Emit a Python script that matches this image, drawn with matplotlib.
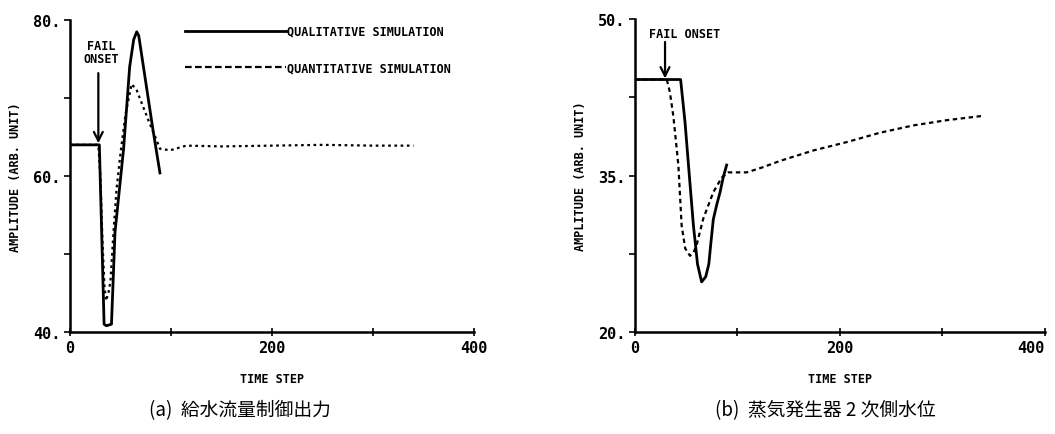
import matplotlib
matplotlib.use("Agg")
import matplotlib.pyplot as plt

# (a) feedwater flow control output
a_qual_x = [0, 29, 33.7, 36, 41, 44.5, 53, 59, 63, 66, 68, 75, 82, 89]
a_qual_y = [64, 64, 41, 40.8, 41, 52.8, 63.5, 74, 77.5, 78.5, 78, 72, 66, 60.4]
a_quan_x = [0, 28, 30, 32, 34, 35.6, 38, 40, 43, 46, 50, 55, 61, 66, 72, 78,
            82.5, 89, 99, 115, 150, 200, 250, 300, 340]
a_quan_y = [64, 64, 60, 52, 46, 44, 45, 46.5, 52.8, 58.3, 63, 68, 71.8, 71,
            69, 67, 65.6, 63.5, 63.3, 63.9, 63.8, 63.9, 64, 63.9, 63.9]

# (b) steam generator secondary water level
b_qual_x = [0, 44.5, 48.8, 53, 57, 61, 65, 69, 72, 74, 76.4, 80, 83, 86, 89.4]
b_qual_y = [44.2, 44.2, 40.1, 35, 30.2, 26.5, 24.8, 25.3, 26.5, 28.5, 30.8,
            32.3, 33.4, 34.8, 36.0]
b_quan_x = [0, 31, 34, 37.4, 42.3, 45.5, 49, 53.7, 57, 60, 66.7, 76.4, 84.6,
            91, 109, 125, 141.5, 174, 206.5, 239, 271.5, 304, 338]
b_quan_y = [44.2, 44.2, 43, 40.7, 36, 30.2, 28, 27.3, 27.6, 28.3, 30.9, 33.4,
            34.8, 35.3, 35.3, 35.8, 36.4, 37.4, 38.2, 39.1, 39.8, 40.3, 40.7]

x_ticks = [0, 100, 200, 300, 400]
x_labels = ["0", "", "200", "", "400"]
a_yticks = [40, 50, 60, 70, 80]
a_ylabels = ["40.", "", "60.", "", "80."]
b_yticks = [20, 27.5, 35, 42.5, 50]
b_ylabels = ["20.", "", "35.", "", "50."]

mono = "DejaVu Sans Mono"
cjk = ["Noto Sans CJK JP", "DejaVu Sans"]

fig = plt.figure(figsize=(10.55, 4.35), dpi=100)
ax1 = fig.add_axes([0.0664, 0.2345, 0.383, 0.717])
ax2 = fig.add_axes([0.6019, 0.2345, 0.3886, 0.7195])


def style_axis(ax, yticks, ylabels, ylim):
    ax.set_xlim(0, 400)
    ax.set_ylim(*ylim)
    for s in ["top", "right"]:
        ax.spines[s].set_visible(False)
    for s in ["left", "bottom"]:
        ax.spines[s].set_linewidth(1.8)
    ax.set_xticks(x_ticks)
    ax.set_xticklabels(x_labels, fontfamily=mono, fontweight="bold", fontsize=11)
    ax.set_yticks(yticks)
    ax.set_yticklabels(ylabels, fontfamily=mono, fontweight="bold", fontsize=11)
    ax.tick_params(axis="x", direction="inout", length=6, width=1.2, pad=3)
    ax.tick_params(axis="y", direction="out", length=4, width=1.2, pad=3)
    ax.set_xlabel("TIME STEP", fontfamily=mono, fontweight="bold", fontsize=8.5,
                  labelpad=12)
    ax.set_ylabel("AMPLITUDE (ARB. UNIT)", fontfamily=mono, fontweight="bold",
                  fontsize=8.5, labelpad=8)


style_axis(ax1, a_yticks, a_ylabels, (40, 80))
style_axis(ax2, b_yticks, b_ylabels, (20, 50))
# the last x label sits at the figure edge; keep it inside
ax2.get_xticklabels()[-1].set_horizontalalignment("right")
ax2.get_xticklabels()[-1].set_x(400)

ax1.plot(a_quan_x, a_quan_y, color="black", lw=1.6, ls=(0, (1.2, 1.6)),
         label="QUANTITATIVE SIMULATION")
ax1.plot(a_qual_x, a_qual_y, color="black", lw=2.0,
         label="QUALITATIVE SIMULATION")
ax2.plot(b_quan_x, b_quan_y, color="black", lw=1.6, ls=(0, (2.0, 1.6)))
ax2.plot(b_qual_x, b_qual_y, color="black", lw=2.0)

# legend with custom order: solid first
h, l = ax1.get_legend_handles_labels()
leg = ax1.legend([h[1], h[0]], [l[1], l[0]], loc="upper left",
                 bbox_to_anchor=(0.285, 0.985), frameon=False, borderpad=0,
                 borderaxespad=0, handlelength=8.5, handletextpad=0.1,
                 labelspacing=2.0, prop={"family": mono, "weight": "bold",
                                         "size": 8.5})
leg.legend_handles[1].set_linestyle((0, (3.0, 1.5)))

arrow = dict(arrowstyle="->", lw=1.6, color="black",
             mutation_scale=16, shrinkA=0, shrinkB=0)
ax1.annotate("", xy=(28, 64.2), xytext=(28, 73.2), arrowprops=arrow)
ax1.text(30.5, 74.2, "FAIL\nONSET", ha="center", va="bottom",
         fontfamily=mono, fontweight="bold", fontsize=8.5, linespacing=1.0)
ax2.annotate("", xy=(29.3, 44.3), xytext=(29.3, 47.8), arrowprops=arrow)
ax2.text(14, 48.6, "FAIL ONSET", ha="left", va="center",
         fontfamily=mono, fontweight="bold", fontsize=8.5)

fig.text(0.2275, 0.057, "(a)  給水流量制御出力", ha="center", va="center",
         fontfamily=cjk, fontsize=13.5)
fig.text(0.782, 0.057, "(b)  蒸気発生器 2 次側水位", ha="center", va="center",
         fontfamily=cjk, fontsize=13.5)

fig.savefig("out.png", dpi=100)
